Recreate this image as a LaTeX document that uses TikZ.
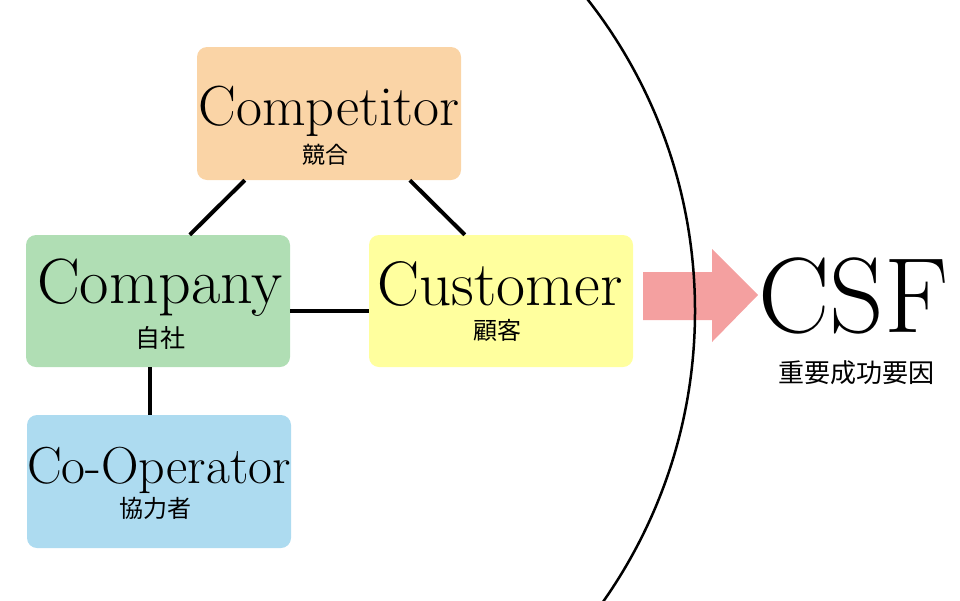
\documentclass[tikz,border=0pt]{standalone}
\usepackage{fontspec}
\newfontfamily\cjk{Noto Sans CJK JP}
\usetikzlibrary{calc}
\definecolor{cpeach}{RGB}{250,212,166}
\definecolor{cgreen}{RGB}{176,222,180}
\definecolor{cyellow}{RGB}{255,255,158}
\definecolor{cblue}{RGB}{173,219,240}
\definecolor{carrow}{RGB}{244,160,160}
\tikzset{
  box/.style={rectangle, rounded corners=10pt, minimum width=264pt, minimum height=133pt, inner sep=0pt, draw=none},
  entxt/.style={anchor=base, inner sep=0pt},
  jptxt/.style={anchor=base, inner sep=0pt, text height=18pt, text depth=2pt},
  conn/.style={line width=4pt},
}
\begin{document}
\begin{tikzpicture}[x=1pt,y=-1pt]
\useasboundingbox (0,0) rectangle (960,600);
% boxes
\node[box, fill=cpeach]  (competitor) at (329,113.5) {};
\node[box, fill=cgreen, minimum height=132pt]  (company)    at (158,301) {};
\node[box, fill=cyellow, minimum height=132pt] (customer)   at (501,301) {};
\node[box, fill=cblue]   (cooperator) at (159,481.5) {};
% texts
\node[entxt, font=\fontsize{56.5}{56.5}\selectfont] (t1) at (329,125) {Competitor};
\node[jptxt, font=\cjk\fontsize{23}{23}\selectfont] (j1) at (325,163.7) {競合};
\node[entxt, font=\fontsize{64}{64}\selectfont] (t2) at (160,303) {Company};
\node[jptxt, font=\cjk\fontsize{25}{25}\selectfont] (j2) at (160,347.5) {自社};
\node[entxt, font=\fontsize{63}{63}\selectfont] (t3) at (500,305) {Customer};
\node[jptxt, font=\cjk\fontsize{24}{24}\selectfont] (j3) at (497,339) {顧客};
\node[entxt, font=\fontsize{52}{52}\selectfont] (t4) at (159,483) {Co-Operator};
\node[jptxt, font=\cjk\fontsize{24}{24}\selectfont] (j4) at (155,517) {協力者};
% connectors
\draw[conn] ($(competitor.south west)+(48,0)$) -- ($(company.north west)+(164,0)$);
\draw[conn] ($(competitor.south west)+(213,0)$) -- ($(customer.north west)+(96,0)$);
\draw[conn] ($(company.east)+(0,10)$) -- ($(customer.west)+(0,10)$);
\draw[conn] ($(company.south)+(-8,0)$) -- ($(cooperator.north)+(-9,0)$);
% arrow
\fill[carrow] (643,272) -- (712,272) -- (712,249) -- (758,295) -- (712,342) -- (712,320) -- (643,320) -- cycle;
% arc
\begin{scope}
\clip (0,0) rectangle (960,600);
\draw[line width=2.5pt] (189.5,311) circle[radius=505.5];
\end{scope}
% CSF
\node[entxt, font=\fontsize{107}{107}\selectfont] (csf) at (853.5,332) {CSF};
\node[jptxt, font=\cjk\fontsize{26}{26}\selectfont] (csfj) at (856,382) {重要成功要因};
\end{tikzpicture}
\end{document}
